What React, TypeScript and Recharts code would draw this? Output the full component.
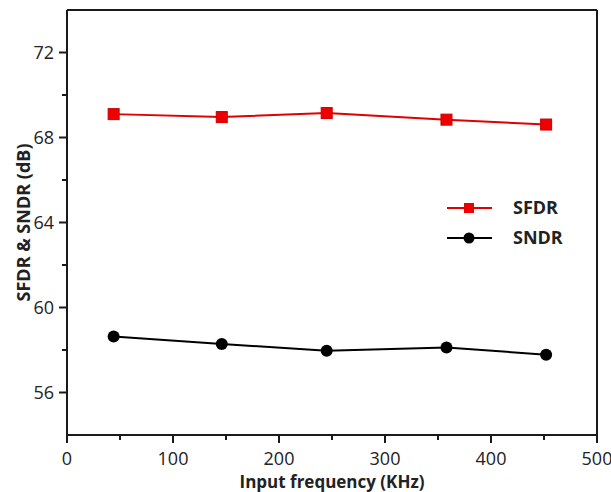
import React from "react";
import {
  LineChart,
  Line,
  XAxis,
  YAxis,
  ReferenceLine,
  Legend,
} from "recharts";

const freqs = [44, 146, 245, 358, 452];
const sfdr = [69.1, 68.96, 69.15, 68.84, 68.61];
const sndr = [58.63, 58.28, 57.97, 58.12, 57.78];
const xTicks = [0, 50, 100, 150, 200, 250, 300, 350, 400, 450, 500];
const yTicks = [56, 58, 60, 62, 64, 66, 68, 70, 72];

const data = freqs.map((f, i) => ({ freq: f, SFDR: sfdr[i], SNDR: sndr[i] }));

const FONT = "'Open Sans', 'DejaVu Sans', sans-serif";
const INK = "#1a1a1a";

function XTick(props: any) {
  const { x, y, payload } = props;
  const major = payload.value % 100 === 0;
  return (
    <g>
      <line x1={x} x2={x} y1={y} y2={y + (major ? 8 : 5)} stroke={INK} strokeWidth={2} />
      {major && (
        <text x={x} y={y + 30} textAnchor="middle" fontSize={18} fill="#222" fontFamily={FONT}>
          {payload.value}
        </text>
      )}
    </g>
  );
}

function YTick(props: any) {
  const { x, y, payload } = props;
  const major = (payload.value - 56) % 4 === 0;
  return (
    <g>
      <line x1={x - (major ? 8 : 5)} x2={x} y1={y} y2={y} stroke={INK} strokeWidth={2} />
      {major && (
        <text x={x - 13} y={y} dy="0.36em" textAnchor="end" fontSize={18} fill="#222" fontFamily={FONT}>
          {payload.value}
        </text>
      )}
    </g>
  );
}

function SquareDot(props: any) {
  const { cx, cy } = props;
  if (cx == null || cy == null) return null;
  return <rect x={cx - 5.5} y={cy - 5.5} width={11} height={11} fill="#ee0000" stroke="#cc0000" strokeWidth={1} />;
}

function CircleDot(props: any) {
  const { cx, cy } = props;
  if (cx == null || cy == null) return null;
  return <circle cx={cx} cy={cy} r={6} fill="#000" />;
}

function LegendBox() {
  const rows = [
    { name: "SFDR", color: "#e00000" },
    { name: "SNDR", color: "#000" },
  ];
  return (
    <svg width={150} height={60}>
      {rows.map((r, i) => {
        const cy = 13 + i * 30;
        return (
          <g key={r.name}>
            <line x1={7} x2={52} y1={cy} y2={cy} stroke={r.color} strokeWidth={2} />
            {r.name === "SFDR" ? (
              <rect x={24} y={cy - 5} width={10} height={10} fill="#ee0000" />
            ) : (
              <circle cx={29} cy={cy} r={5.5} fill="#000" />
            )}
            <text x={73} y={cy} dy="0.36em" fontSize={18} fontWeight="bold" fill="#222" fontFamily={FONT}>
              {r.name}
            </text>
          </g>
        );
      })}
    </svg>
  );
}

export default function App() {
  return (
    <div style={{ position: "absolute", left: 0, top: 0, background: "#fff" }}>
      <LineChart width={611} height={492} data={data} margin={{ top: 10, right: 14, bottom: 0, left: 0 }}>
        <XAxis
          dataKey="freq"
          type="number"
          domain={[0, 500]}
          ticks={xTicks}
          interval={0}
          tickLine={false}
          tickSize={0}
          tickMargin={0}
          tick={<XTick />}
          height={57}
          axisLine={{ stroke: INK, strokeWidth: 2 }}
          label={{
            value: "Input frequency (KHz)",
            position: "insideBottom",
            offset: 4,
            fontSize: 17,
            fontWeight: "bold",
            fill: "#222",
            fontFamily: FONT,
          }}
        />
        <YAxis
          type="number"
          domain={[54, 74]}
          ticks={yTicks}
          interval={0}
          tickLine={false}
          tickSize={0}
          tickMargin={0}
          tick={<YTick />}
          width={67}
          axisLine={{ stroke: INK, strokeWidth: 2 }}
          label={{
            value: "SFDR & SNDR (dB)",
            angle: -90,
            position: "insideLeft",
            offset: 24,
            style: { textAnchor: "middle" },
            fontSize: 18,
            fontWeight: "bold",
            fill: "#222",
            fontFamily: FONT,
          }}
        />
        <ReferenceLine y={74} stroke={INK} strokeWidth={2} />
        <ReferenceLine x={500} stroke={INK} strokeWidth={2} />
        <Legend
          layout="vertical"
          align="center"
          verticalAlign="middle"
          content={() => <LegendBox />}
          wrapperStyle={{ position: "absolute", left: 440, top: 195, width: 150, height: 60 }}
        />
        <Line
          dataKey="SFDR"
          stroke="#e00000"
          strokeWidth={2}
          dot={<SquareDot />}
          activeDot={false}
          isAnimationActive={false}
        />
        <Line
          dataKey="SNDR"
          stroke="#000"
          strokeWidth={2}
          dot={<CircleDot />}
          activeDot={false}
          isAnimationActive={false}
        />
      </LineChart>
    </div>
  );
}
